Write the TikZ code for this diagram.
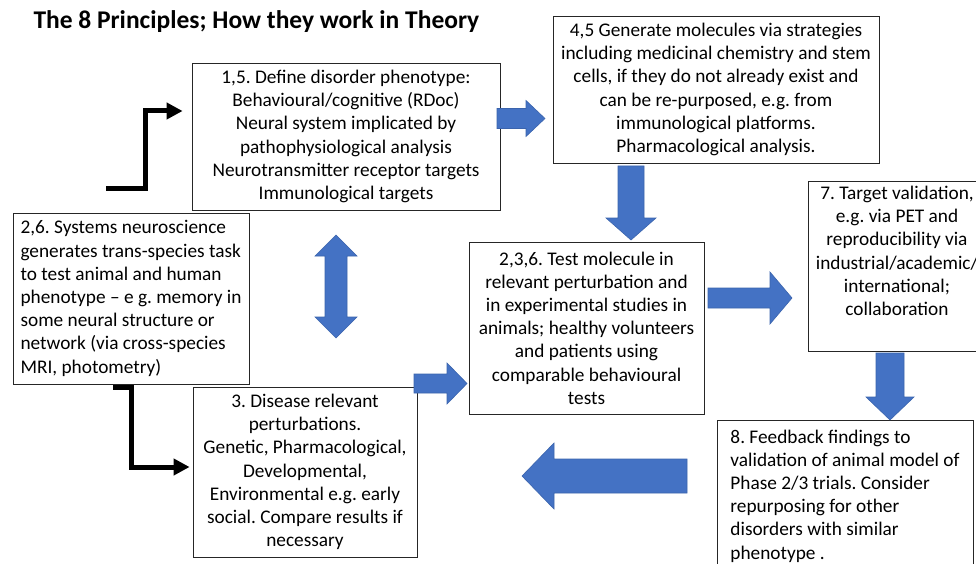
\documentclass[tikz,border=0pt]{standalone}
\usepackage{fontspec}
\setmainfont{Carlito}
\usepackage{tikz}
\usetikzlibrary{arrows.meta}
\definecolor{arrowblue}{HTML}{4472C4}
\definecolor{arrowedge}{HTML}{3B64AD}
\frenchspacing

% block arrow: tail, direction, length, head length, half shaft, half head
\newcommand{\blockarrow}[6]{%
  \filldraw[arrowblue, draw=arrowedge, line width=0.6pt, shift={#1}, rotate=#2]
    (0,-#5) -- ({#3-#4},-#5) -- ({#3-#4},-#6) -- (#3,0) -- ({#3-#4},#6) -- ({#3-#4},#5) -- (0,#5) -- cycle;}

\begin{document}
\begin{tikzpicture}[x=1pt, y=-1pt]
  \tikzstyle{box} = [draw=black!85, line width=0.8pt, fill=white, rectangle, inner sep=4pt, font={\fontsize{19.3}{23.2}\selectfont}]
  \tikzstyle{elbow} = [line width=5pt, -{Triangle[length=16pt,width=16pt]}]

  \fill[white] (0,0) rectangle (976,564);
  \path[use as bounding box, clip] (0,0) rectangle (976,564);

  \node[anchor=west, font={\bfseries\fontsize{25.5}{30}\selectfont}] (title) at (30,22) {The 8 Principles; How they work in Theory};

  \node[box, align=center, minimum width=308, minimum height=147] (def) at (346,136.5)
    {1,5. Define disorder phenotype:\\ Behavioural/cognitive (RDoc)\\ Neural system implicated by\\ pathophysiological analysis\\ Neurotransmitter receptor targets\\ Immunological targets};
  \node[box, align=center, minimum width=326, minimum height=147] (gen) at (716,89.5)
    {4,5 Generate molecules via strategies\\ including medicinal chemistry and stem\\ cells, if they do not already exist and\\ can be re-purposed, e.g. from\\ immunological platforms.\\ Pharmacological analysis.};
  \node[box, align=left, minimum width=236, minimum height=171] (sys) at (131,298.5)
    {2,6. Systems neuroscience\\ generates trans-species task\\ to test animal and human\\ phenotype -- e g. memory in\\ some neural structure or\\ network (via cross-species\\ MRI, photometry)};
  \node[box, align=center, minimum width=235, minimum height=172] (test) at (586.5,328)
    {2,3,6. Test molecule in\\ relevant perturbation and\\ in experimental studies in\\ animals; healthy volunteers\\ and patients using\\ comparable behavioural\\ tests};
  \node[box, inner sep=0pt, minimum width=178, minimum height=170] (val) at (897,266)
    {\parbox[c][160pt][t]{170pt}{\centering 7. Target validation,\\ e.g. via PET and\\ reproducibility via\\ industrial/academic/\\ international;\\ collaboration}};
  \node[box, align=center, minimum width=224, minimum height=170] (dis) at (305,472)
    {3. Disease relevant\\ perturbations.\\ Genetic, Pharmacological,\\ Developmental,\\ Environmental e.g. early\\ social. Compare results if\\ necessary};
  \node[box, align=left, minimum width=256, minimum height=152] (fb) at (845,496)
    {8. Feedback findings to\\ validation of animal model of\\ Phase 2/3 trials. Consider\\ repurposing for other\\ disorders with similar\\ phenotype .};

  % blue block arrows between the stages
  \foreach \x/\y/\a/\l/\h/\s/\w in {497/118.5/0/48/19/10/18, 631/166/-90/74/22/13/25,
      708/298/0/84/22/10/26, 890/353/-90/67/23/14/24, 687/476/180/165/32/17/33,
      414/383.5/0/53/20/9.5/20.5}
    \blockarrow{(\x,\y)}{\a}{\l}{\h}{\s}{\w};
  \filldraw[arrowblue, draw=arrowedge, line width=0.6pt] (336,235) -- (357,256) -- (347,256) -- (347,317)
    -- (357,317) -- (336,338) -- (315,317) -- (325,317) -- (325,256) -- (315,256) -- cycle;

  % black elbow arrows
  \coordinate (start) at (106,188);
  \coordinate (disin) at ([yshift=5pt]dis.west);
  \draw[elbow, shorten >=9pt] (start) -- ++(39,0) |- ([yshift=25.5pt]def.west);
  \draw[elbow, shorten >=3pt] ([shift={(-18,3)}]sys.south) -| (disin -| sys.south) -- (disin);
\end{tikzpicture}
\end{document}
